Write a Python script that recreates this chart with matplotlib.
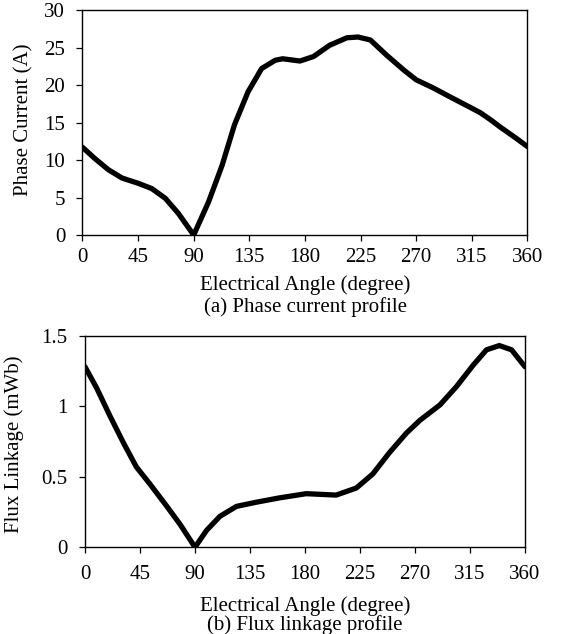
import numpy as np
import matplotlib
matplotlib.use('Agg')
import matplotlib.pyplot as plt

plt.rcParams['font.family'] = ['Liberation Serif', 'DejaVu Serif']

# phase current profile (A) vs electrical angle (deg)
angle_a = [0, 10, 21, 32, 45, 56, 67, 77.5, 90, 102, 113, 123, 134, 145, 156, 162, 176,
           187, 200, 214, 223, 233, 246, 260, 270, 284, 300, 314, 322, 330, 338, 351, 360]
current = [11.7, 10.2, 8.7, 7.6, 6.9, 6.2, 4.9, 2.9, 0.0, 4.4, 9.3, 14.7, 19.1, 22.2,
           23.3, 23.5, 23.2, 23.8, 25.3, 26.3, 26.4, 26.0, 24.0, 22.0, 20.7, 19.6, 18.2,
           17.0, 16.3, 15.4, 14.4, 12.9, 11.8]

# flux linkage profile (mWb) vs electrical angle (deg)
angle_b = [0, 9.5, 20.5, 31.5, 42, 53, 67, 78, 90, 99.5, 110.5, 124, 140.5, 159, 181,
           205.5, 222, 235.5, 249, 263, 274, 290.5, 304, 317.5, 328.5, 339, 349, 360]
flux = [1.28, 1.13, 0.93, 0.74, 0.57, 0.45, 0.29, 0.16, 0.0, 0.12, 0.22, 0.29, 0.32,
        0.35, 0.38, 0.37, 0.42, 0.52, 0.67, 0.81, 0.90, 1.01, 1.14, 1.29, 1.40, 1.43,
        1.40, 1.28]

xticks = [0, 45, 90, 135, 180, 225, 270, 315, 360]
fs = 15

fig = plt.figure(figsize=(5.65, 6.34), dpi=100)
ax1 = fig.add_axes([0.1460, 0.6293, 0.7873, 0.3549])
ax2 = fig.add_axes([0.1504, 0.1368, 0.7788, 0.3337])


def style(ax, ylim, yticks, yfmt, xpad):
    ax.set_xlim(0, 360)
    ax.set_xticks(xticks)
    ax.set_ylim(*ylim)
    ax.set_yticks(yticks)
    ax.set_yticklabels([yfmt(v) for v in yticks])
    ax.tick_params(direction='out', length=4.5, width=0.9, labelsize=fs, colors='black')
    ax.tick_params(axis='y', pad=8)
    ax.tick_params(axis='x', pad=xpad)
    for s in ax.spines.values():
        s.set_linewidth(1.0)


ax1.plot(angle_a, current, color='black', lw=3.8, solid_capstyle='round', solid_joinstyle='round')
style(ax1, (0, 30), [0, 5, 10, 15, 20, 25, 30], lambda v: '%d' % v, 5)

ax2.plot(angle_b, flux, color='black', lw=3.8, solid_capstyle='round', solid_joinstyle='round')
style(ax2, (0, 1.5), [0, 0.5, 1, 1.5], lambda v: '%g' % v, 8)

H = 634.0
fig.text(24 / 565, 1 - 120 / H, 'Phase Current (A)', rotation=90, ha='center', va='center', fontsize=fs)
fig.text(14 / 565, 1 - 444 / H, 'Flux Linkage (mWb)', rotation=90, ha='center', va='center', fontsize=fs)
fig.text(305 / 565, 1 - 285 / H, 'Electrical Angle (degree)', ha='center', va='center', fontsize=fs)
fig.text(305 / 565, 1 - 307 / H, '(a) Phase current profile', ha='center', va='center', fontsize=fs)
fig.text(305 / 565, 1 - 606 / H, 'Electrical Angle (degree)', ha='center', va='center', fontsize=fs)
fig.text(305 / 565, 1 - 625 / H, '(b) Flux linkage profile', ha='center', va='center', fontsize=fs)

fig.savefig('out.png', dpi=100)
